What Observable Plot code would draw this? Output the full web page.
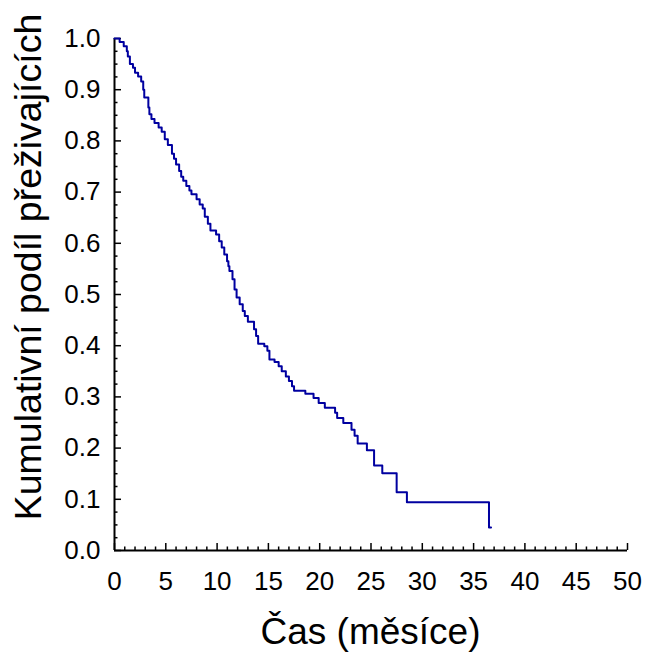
<!DOCTYPE html>
<html>
<head>
<meta charset="utf-8">
<script src="https://cdn.jsdelivr.net/npm/d3@7"></script>
<script src="https://cdn.jsdelivr.net/npm/@observablehq/plot@0.6"></script>
<style>
  html, body { margin: 0; padding: 0; background: #fff; }
  #chart svg { display: block; }
</style>
</head>
<body>
<div id="chart"></div>
<script>
// Kaplan–Meier step data: time (months) of each step and survival from that time on
const times = [0, 0.5, 0.9, 1.2, 1.3, 1.5, 1.8, 2.0, 2.3, 2.6, 2.8, 2.9, 3.3, 3.4, 3.6, 3.9, 4.3, 4.6, 4.9, 5.2,
  5.6, 5.8, 6.0, 6.3, 6.5, 6.7, 7.0, 7.3, 7.5, 8.0, 8.3, 8.6, 8.8, 9.1, 9.35, 9.9, 10.2, 10.45, 10.7, 10.97,
  11.1, 11.2, 11.5, 11.7, 11.9, 12.2, 12.5, 12.7, 13.0, 13.6, 13.8, 14.0, 14.6, 14.9, 15.1, 15.6, 16.0, 16.3,
  16.7, 17.0, 17.3, 17.5, 18.6, 19.4, 19.9, 20.5, 21.5, 21.7, 22.3, 23.1, 23.4, 23.7, 24.6, 25.3, 26.1, 27.5,
  28.5, 36.5, 36.7];
const survival = [1.0, 0.993, 0.985, 0.975, 0.965, 0.95, 0.943, 0.933, 0.926, 0.916, 0.9, 0.885, 0.865, 0.852,
  0.843, 0.835, 0.826, 0.818, 0.803, 0.792, 0.775, 0.765, 0.754, 0.741, 0.73, 0.722, 0.712, 0.703, 0.696, 0.686,
  0.676, 0.668, 0.652, 0.638, 0.625, 0.617, 0.604, 0.592, 0.578, 0.565, 0.555, 0.546, 0.53, 0.51, 0.494, 0.481,
  0.468, 0.458, 0.447, 0.432, 0.419, 0.404, 0.399, 0.39, 0.373, 0.368, 0.36, 0.35, 0.34, 0.331, 0.321, 0.312,
  0.306, 0.298, 0.288, 0.279, 0.269, 0.259, 0.249, 0.236, 0.224, 0.209, 0.196, 0.166, 0.151, 0.114, 0.094,
  0.045, 0.045];

const xMajor = [0, 5, 10, 15, 20, 25, 30, 35, 40, 45, 50];
const xMinor = d3.range(0, 51, 1).filter(v => v % 5 !== 0);
const yMajor = [0, 0.1, 0.2, 0.3, 0.4, 0.5, 0.6, 0.7, 0.8, 0.9, 1.0];
const yMinor = d3.range(0, 40).map(i => i * 0.025).filter((v, i) => i % 4 !== 0);

const xTitle = "Čas (měsíce)";
const yTitle = "Kumulativní podíl přeživajících";

const data = times.map((t, i) => ({t, s: survival[i]}));

const W = 646, H = 653;
const mL = 114, mR = 19, mT = 38, mB = 103;
const innerW = W - mL - mR, innerH = H - mT - mB;
const font = "'Liberation Sans', Arial, sans-serif";

const chart = Plot.plot({
  width: W,
  height: H,
  marginLeft: mL,
  marginRight: mR,
  marginTop: mT,
  marginBottom: mB,
  style: {fontFamily: font, background: "#fff", color: "#000"},
  x: {domain: [0, 50]},
  y: {domain: [0, 1]},
  marks: [
    // tick labels
    Plot.axisX({ticks: xMajor, tickSize: 0, tickPadding: 21, tickFormat: d3.format("d"), fontSize: 26, label: null}),
    Plot.axisY({ticks: yMajor, tickSize: 0, tickPadding: 14, tickFormat: d3.format(".1f"), fontSize: 26, label: null}),
    // inward ticks
    Plot.tickX(xMajor, {x: d => d, insetTop: innerH - 7, stroke: "#000", strokeWidth: 1.5}),
    Plot.tickX(xMinor, {x: d => d, insetTop: innerH - 3.5, stroke: "#000", strokeWidth: 1.5}),
    Plot.tickY(yMajor, {y: d => d, insetRight: innerW - 7, stroke: "#000", strokeWidth: 1.5}),
    Plot.tickY(yMinor, {y: d => d, insetRight: innerW - 3.5, stroke: "#000", strokeWidth: 1.5}),
    // axis lines
    Plot.ruleY([0], {stroke: "#000", strokeWidth: 2}),
    Plot.ruleX([0], {stroke: "#000", strokeWidth: 2}),
    // survival curve
    Plot.line(data, {x: "t", y: "s", curve: "step-after", stroke: "#0000a0", strokeWidth: 2})
  ]
});

const svg = d3.select(chart);
svg.append("text")
  .attr("x", mL + innerW / 2)
  .attr("y", 644)
  .attr("text-anchor", "middle")
  .attr("font-family", font)
  .attr("font-size", 37)
  .attr("fill", "#000")
  .text(xTitle);
svg.append("text")
  .attr("transform", `translate(41, 267) rotate(-90)`)
  .attr("text-anchor", "middle")
  .attr("font-family", font)
  .attr("font-size", 37.5)
  .attr("fill", "#000")
  .text(yTitle);

document.getElementById("chart").appendChild(chart);
</script>
</body>
</html>
